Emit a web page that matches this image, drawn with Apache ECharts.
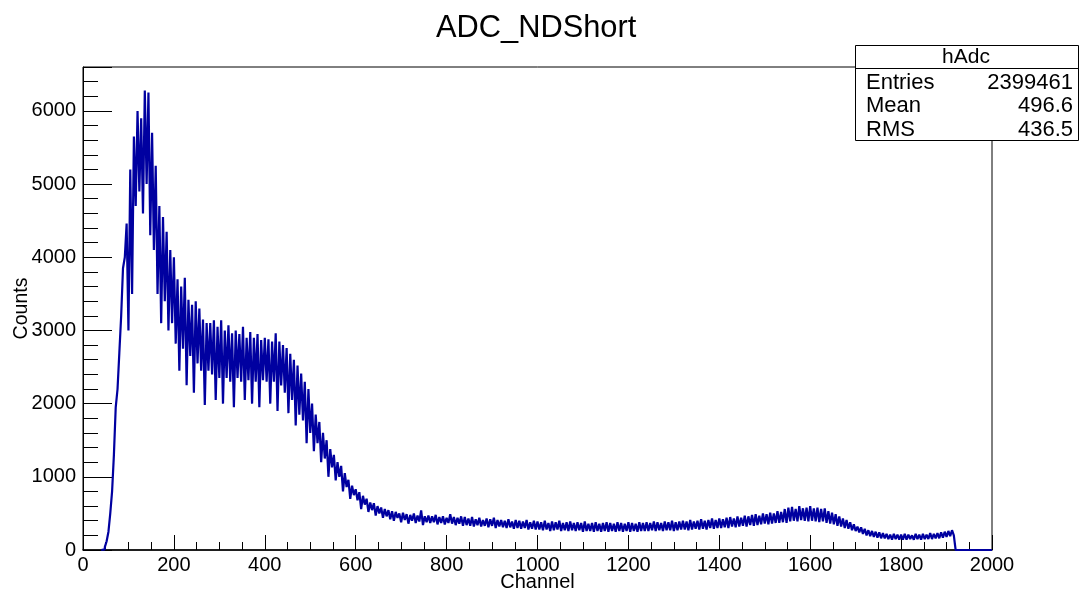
<!DOCTYPE html>
<html>
<head>
<meta charset="utf-8">
<script src="https://cdn.jsdelivr.net/npm/echarts@6/dist/echarts.min.js"></script>
<style>
html,body{margin:0;padding:0;background:#fff;}
#chart{width:1079px;height:594px;}
</style>
</head>
<body>
<div id="chart"></div>
<script>
// Histogram: bins 4 channels wide starting at channel 40.
// Each pair of bins (8 channels) = [upperBin, lowerBin] (ADC odd/even pattern).
const firstChannel = 40;
const binWidth = 4;
const upperBins = [
  0, 40, 250, 800, 1950, 2700, 3850, 4460, 5200, 5650,
  6000, 5900, 6280, 6250, 5700, 5250, 4700, 4550, 4350, 4100,
  4000, 3700, 3600, 3720, 3420, 3350, 3400, 3300, 3150, 3100,
  3100, 3140, 3050, 3140, 3000, 3070, 2960, 3000, 2950, 3050,
  2900, 2980, 2900, 2950, 2870, 2900, 2880, 2850, 2960, 2850,
  2800, 2760, 2680, 2600, 2520, 2410, 2300, 2200, 2000, 1850,
  1750, 1600, 1500, 1380, 1300, 1200, 1150, 1050, 960, 880,
  830, 790, 740, 700, 650, 640, 600, 580, 560, 545,
  530, 520, 500, 510, 490, 480, 500, 470, 540, 460,
  470, 460, 480, 450, 460, 440, 490, 450, 440, 460,
  450, 430, 450, 420, 440, 410, 430, 420, 440, 410,
  410, 400, 420, 390, 410, 400, 390, 410, 380, 400,
  390, 380, 400, 370, 390, 380, 400, 370, 380, 390,
  370, 380, 370, 390, 360, 370, 380, 360, 370, 380,
  370, 360, 380, 370, 360, 380, 370, 360, 380, 370,
  380, 370, 390, 380, 370, 390, 380, 400, 380, 390,
  400, 390, 410, 390, 400, 420, 400, 410, 430, 410,
  430, 420, 440, 450, 430, 460, 440, 470, 460, 480,
  490, 470, 500, 490, 510, 500, 530, 520, 560, 580,
  590, 560, 600, 570, 580, 600, 570, 580, 560, 570,
  530, 510, 490, 460, 430, 410, 380, 350, 320, 310,
  290, 270, 260, 250, 240, 230, 220, 210, 220, 210,
  210, 220, 210, 200, 220, 210, 220, 210, 230, 220,
  230, 240, 250, 260, 270
];
const lowerBins = [
  8, 120, 500, 1300, 2200, 3200, 4000, 3000, 3500, 4700,
  4900, 4600, 5000, 4300, 4100, 3500, 3100, 3400, 3000, 3100,
  2820, 2450, 2750, 2250, 2650, 2150, 2550, 2450, 1980, 2450,
  2400, 2050, 2350, 2000, 2350, 2300, 1950, 2350, 2300, 2050,
  2320, 2000, 2300, 1950, 2320, 2300, 2000, 2300, 1900, 2250,
  2150, 1870, 2050, 1700, 1850, 1770, 1460, 1600, 1350, 1460,
  1200, 1250, 1000, 1130, 950, 1000, 800, 860, 700, 750,
  680, 560, 620, 520, 545, 470, 500, 440, 460, 420,
  400, 440, 380, 410, 360, 400, 370, 390, 340, 380,
  370, 380, 350, 370, 350, 370, 360, 340, 360, 330,
  340, 330, 320, 340, 320, 330, 310, 330, 300, 320,
  310, 300, 310, 290, 300, 290, 300, 280, 290, 280,
  280, 270, 280, 260, 270, 280, 260, 270, 260, 270,
  260, 270, 250, 260, 260, 250, 260, 250, 260, 250,
  260, 250, 260, 250, 260, 250, 260, 250, 260, 260,
  260, 270, 260, 270, 260, 270, 270, 260, 270, 280,
  280, 270, 280, 290, 280, 290, 280, 300, 290, 300,
  300, 310, 300, 320, 310, 320, 330, 320, 340, 330,
  340, 350, 360, 350, 360, 370, 370, 380, 370, 390,
  400, 390, 410, 400, 390, 400, 390, 380, 390, 370,
  360, 350, 330, 320, 300, 290, 270, 260, 240, 220,
  200, 190, 180, 170, 160, 160, 150, 140, 150, 140,
  140, 140, 150, 140, 150, 140, 150, 150, 150, 160,
  160, 170, 180, 190, 200
];
const xTicks = [0, 200, 400, 600, 800, 1000, 1200, 1400, 1600, 1800, 2000];
const yTicks = [0, 1000, 2000, 3000, 4000, 5000, 6000];
const statsTitle = 'hAdc';
const statsLabels = ['Entries', 'Mean', 'RMS'];
const statsValues = ['2399461', '496.6', '436.5'];

// Build histogram step data (left edge, content), step 'end'
const histData = [];
for (let k = 0; k < upperBins.length; k++) {
  const c = firstChannel + 2 * binWidth * k;
  histData.push([c, upperBins[k]]);
  histData.push([c + binWidth, lowerBins[k]]);
}
const lastEdge = firstChannel + 2 * binWidth * upperBins.length;
histData.push([lastEdge, 0]);
histData.push([2000, 0]);

const FONT = "'Liberation Sans', Arial, sans-serif";
const chart = echarts.init(document.getElementById('chart'), null, {renderer: 'canvas'});

const statsGraphics = [
  {type: 'rect', shape: {x: 855.5, y: 45.5, width: 223, height: 95}, style: {fill: '#fff', stroke: '#000', lineWidth: 1}, z: 100},
  {type: 'line', shape: {x1: 855.5, y1: 68.5, x2: 1079, y2: 68.5}, style: {stroke: '#000', lineWidth: 1}, z: 101},
  {type: 'text', x: 966, y: 57, style: {text: statsTitle, font: "21px " + FONT, fill: '#000', textAlign: 'center', textVerticalAlign: 'middle'}, z: 101}
];
statsLabels.forEach((lab, i) => {
  statsGraphics.push({type: 'text', x: 866, y: 82.5 + i * 23.5, style: {text: lab, font: "22px " + FONT, fill: '#000', textAlign: 'left', textVerticalAlign: 'middle'}, z: 101});
  statsGraphics.push({type: 'text', x: 1073, y: 82.5 + i * 23.5, style: {text: statsValues[i], font: "22px " + FONT, fill: '#000', textAlign: 'right', textVerticalAlign: 'middle'}, z: 101});
});

const option = {
  animation: false,
  backgroundColor: '#fff',
  title: {
    text: 'ADC_NDShort', left: 431, top: 8,
    textStyle: {fontFamily: FONT, fontSize: 30.8, fontWeight: 'normal', color: '#000'}
  },
  grid: {left: 83, right: 87, top: 67, bottom: 44, show: true, borderColor: '#000', borderWidth: 1,
    backgroundColor: 'transparent', containLabel: false, outerBoundsMode: 'none'},
  xAxis: {
    type: 'value', min: 0, max: 2000, interval: 200,
    name: 'Channel', nameLocation: 'middle', nameGap: 22, nameMoveOverlap: false,
    nameTextStyle: {fontFamily: FONT, fontSize: 20, color: '#000', verticalAlign: 'top'},
    axisLine: {show: true, lineStyle: {color: '#000', width: 1.5}},
    axisTick: {show: true, inside: true, length: 15, lineStyle: {color: '#000'}},
    minorTick: {show: true, splitNumber: 4, length: 8, lineStyle: {color: '#000'}},
    axisLabel: {fontFamily: FONT, fontSize: 20, color: '#000', margin: 5,
      formatter: v => xTicks.includes(v) ? String(v) : ''},
    splitLine: {show: false}
  },
  yAxis: [
    {
      type: 'value', min: 0, max: 6600, interval: 200, position: 'left',
      name: 'Counts', nameLocation: 'middle', nameGap: 51, nameRotate: 90, nameMoveOverlap: false,
      nameTextStyle: {fontFamily: FONT, fontSize: 19.5, color: '#000', verticalAlign: 'bottom'},
      axisLine: {show: true, lineStyle: {color: '#000', width: 1}},
      axisTick: {show: true, inside: true, length: 15, lineStyle: {color: '#000'}},
      axisLabel: {fontFamily: FONT, fontSize: 20, color: '#000', margin: 7,
        formatter: v => yTicks.includes(v) ? String(v) : ''},
      splitLine: {show: false}
    },
    {
      type: 'value', min: 0, max: 6600, interval: 1000, position: 'left',
      axisLine: {show: false},
      axisTick: {show: true, inside: true, length: 29, lineStyle: {color: '#000'}},
      axisLabel: {show: false},
      splitLine: {show: false}
    }
  ],
  series: [{
    type: 'line', step: 'end', data: histData, yAxisIndex: 0,
    showSymbol: false, symbol: 'none',
    lineStyle: {color: '#0000a0', width: 2.2},
    z: 5
  }],
  graphic: statsGraphics
};
chart.setOption(option);
</script>
</body>
</html>
